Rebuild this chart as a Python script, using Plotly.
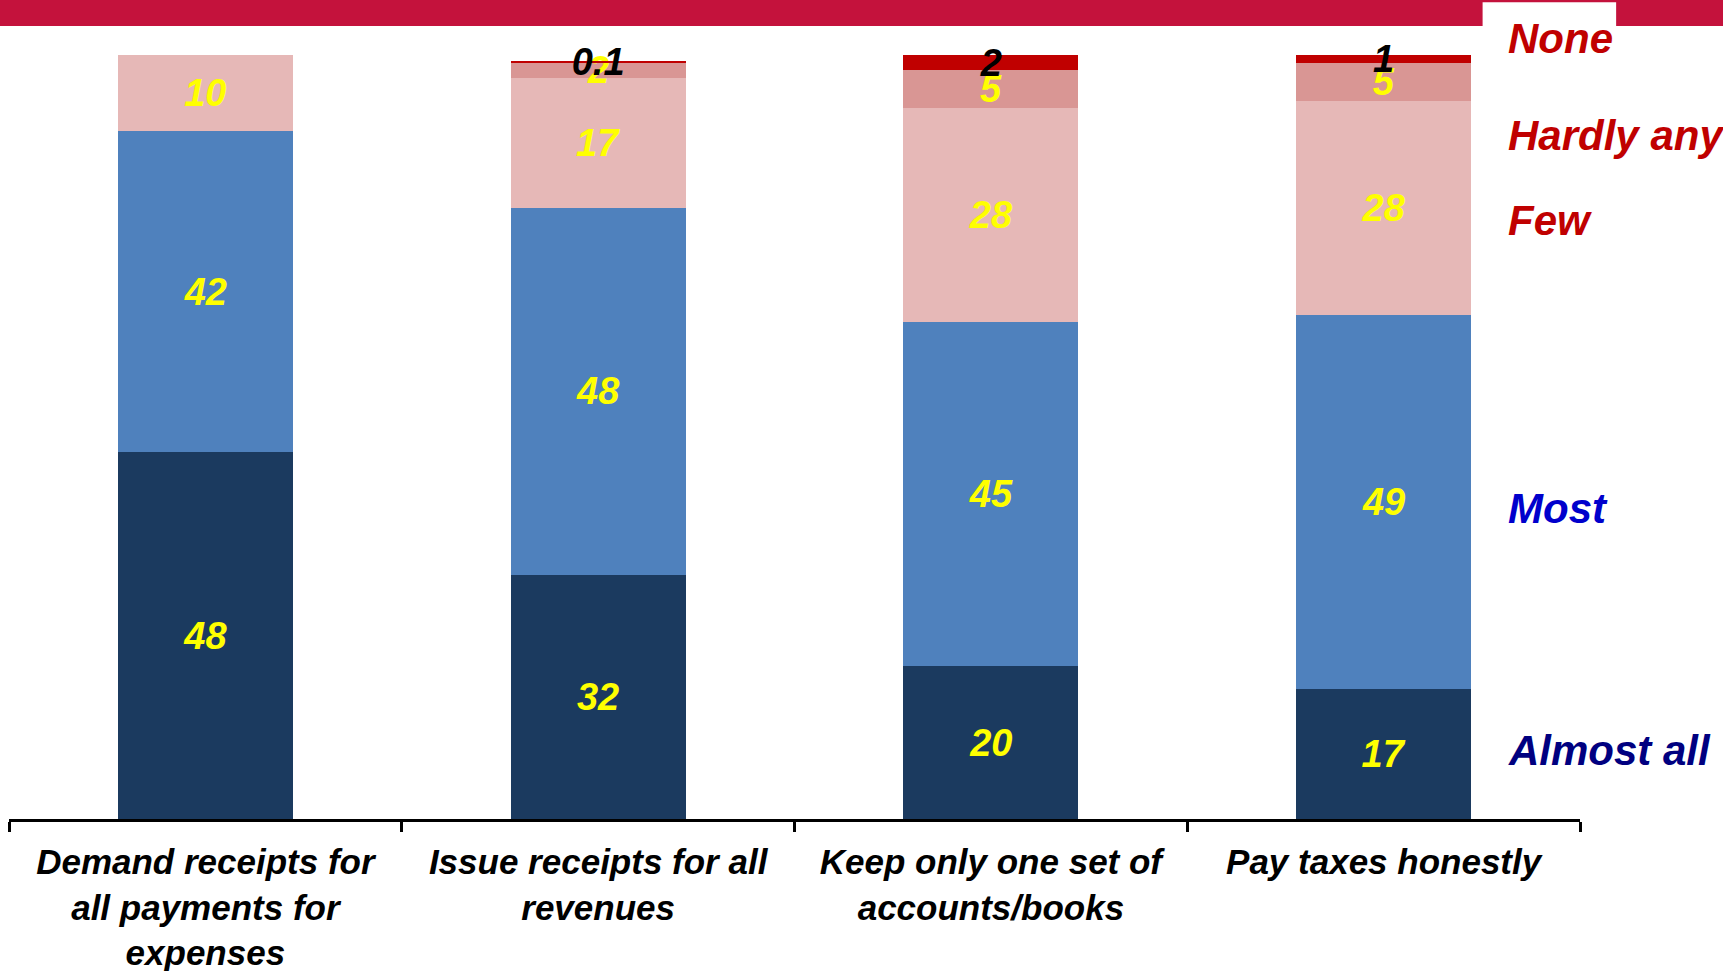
import plotly.graph_objects as go

categories = [
    "Demand receipts for<br>all payments for<br>expenses",
    "Issue receipts for all<br>revenues",
    "Keep only one set of<br>accounts/books",
    "Pay taxes honestly",
]

series_names = ["Almost all", "Most", "Few", "Hardly any", "None"]
almost_all = [48, 32, 20, 17]
most = [42, 48, 45, 49]
few = [10, 17, 28, 28]
hardly_any = [None, 2, 5, 5]
none_ = [None, 0.1, 2, 1]
series_values = [almost_all, most, few, hardly_any, none_]

bar_colors = ["#1b3a5f", "#4f81bd", "#e6b8b7", "#d99694", "#c00000"]
text_colors = ["#ffff00", "#ffff00", "#ffff00", "#ffff00", "#000000"]
name_colors = ["#000080", "#0000cc", "#c00000", "#c00000", "#c00000"]
# paper y of the right-hand series names
name_y = [0.090, 0.406, 0.784, 0.895, 1.022]

FONT = "Liberation Sans, Arial, sans-serif"

fig = go.Figure()
for name, vals, bc, tc in zip(series_names, series_values, bar_colors, text_colors):
    fig.add_trace(go.Bar(
        x=categories, y=vals, name=name,
        marker=dict(color=bc, line=dict(width=0)),
        text=["" if v is None else f"{v:g}" for v in vals],
        textposition="inside", insidetextanchor="middle",
        constraintext="none", textangle=0, cliponaxis=False,
        textfont=dict(family=FONT, size=38, color=tc, weight="bold", style="italic"),
        width=0.445, hoverinfo="skip",
    ))

# red band at the top with the white notch
fig.add_shape(type="rect", xref="paper", yref="paper", x0=-0.1, x1=1.2, y0=1.038, y1=1.08,
              fillcolor="#c4123c", line_width=0, layer="above")
fig.add_shape(type="rect", xref="paper", yref="paper", x0=0.938, x1=1.023, y0=1.038, y1=1.069,
              fillcolor="white", line_width=0, layer="above")

for name, c, y in zip(series_names, name_colors, name_y):
    fig.add_annotation(text=name, xref="paper", yref="paper", x=0.953, y=y,
                       xanchor="left", yanchor="middle", showarrow=False,
                       font=dict(family=FONT, size=42, color=c, weight="bold", style="italic"))

fig.update_layout(
    barmode="stack", showlegend=False,
    width=1723, height=971,
    margin=dict(l=9, r=143, t=55, b=152),
    plot_bgcolor="white", paper_bgcolor="white",
)
fig.update_xaxes(
    automargin=False,
    showline=True, linecolor="black", linewidth=3,
    ticks="outside", tickson="boundaries", ticklen=10, tickwidth=3, tickcolor="black",
    ticklabelstandoff=10,
    tickfont=dict(family=FONT, size=35, color="black", weight="bold", style="italic"),
    showgrid=False,
)
fig.update_yaxes(range=[0, 100], visible=False, showgrid=False, zeroline=False)

fig.write_html("out.html", config={"displayModeBar": False},
               post_script="document.body.style.margin='0';")
